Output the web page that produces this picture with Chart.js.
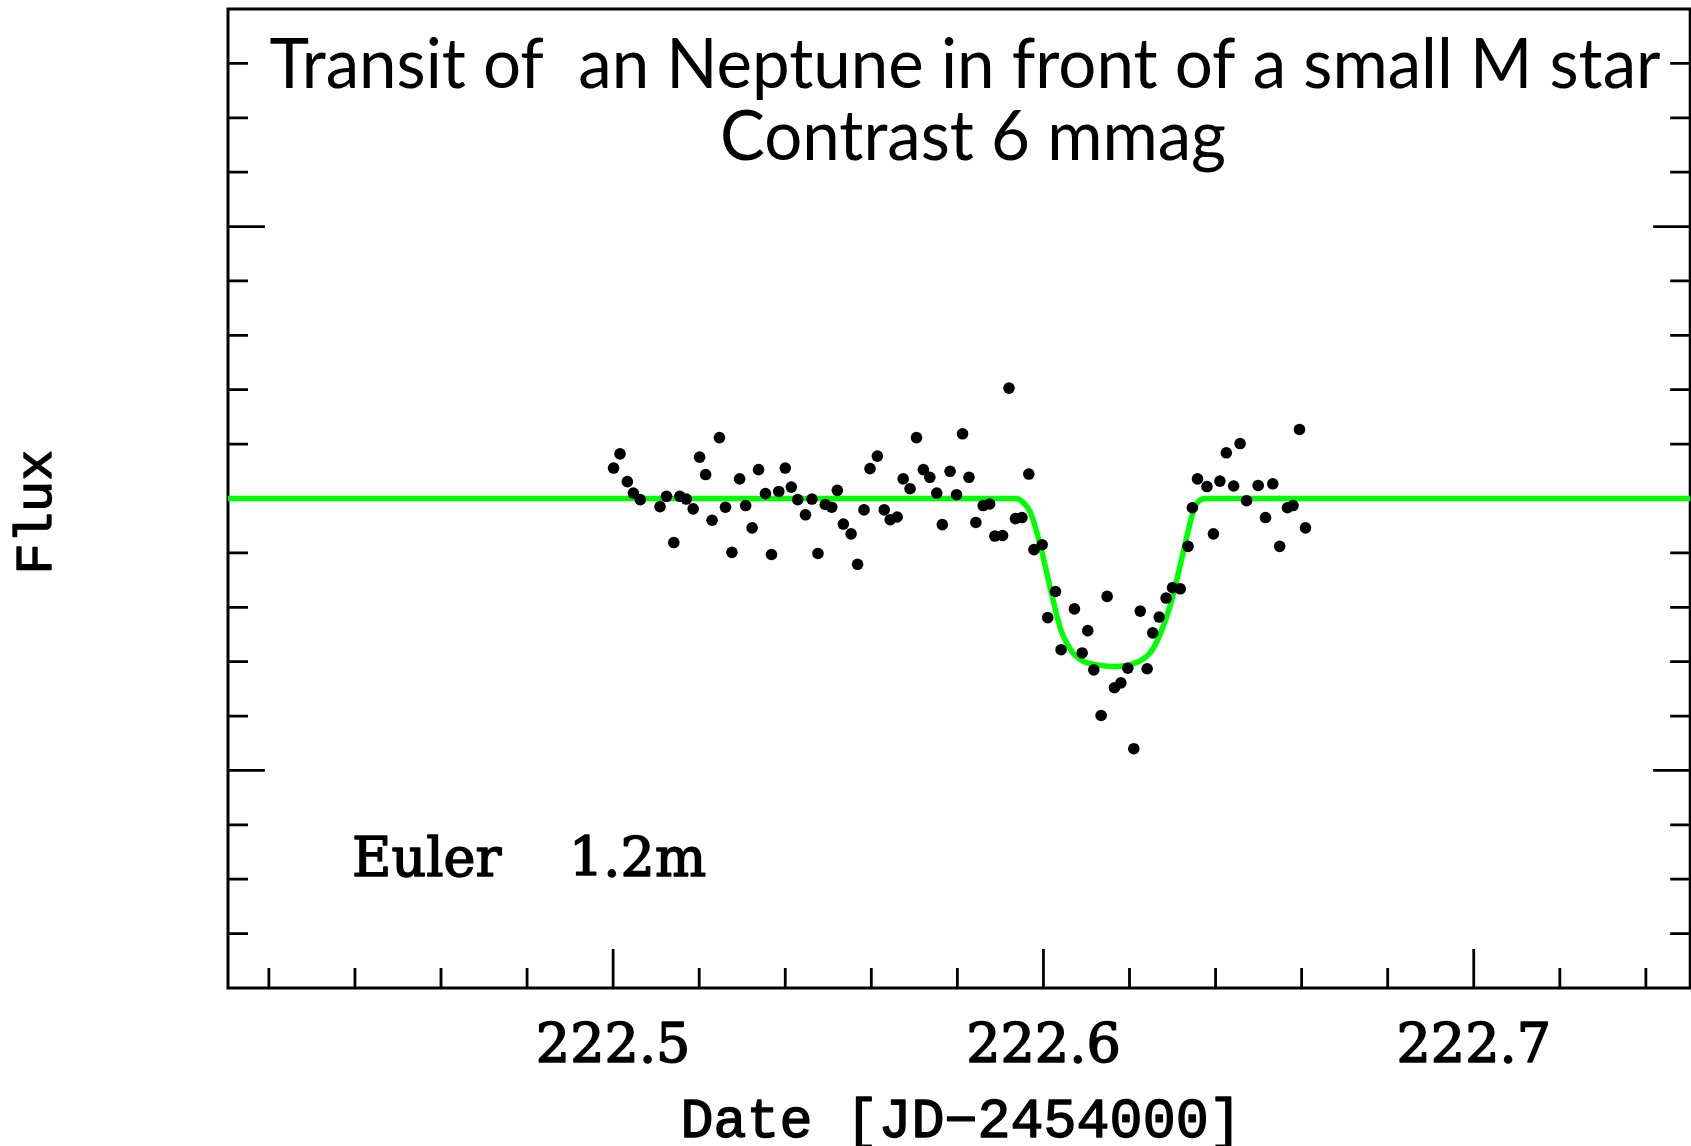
<!DOCTYPE html>
<html>
<head>
<meta charset="utf-8">
<title>Transit light curve</title>
<script src="https://cdn.jsdelivr.net/npm/chart.js@4.4.0/dist/chart.umd.min.js"></script>
<style>
html, body { margin: 0; padding: 0; background: #ffffff; overflow: hidden; }
#wrap { width: 1696px; height: 1146px; }
canvas { display: block; }
</style>
</head>
<body>
<div id="wrap"><canvas id="lightCurve" width="1696" height="1146" style="width:1696px;height:1146px"></canvas></div>
<script>
// observed photometry, Euler 1.2m
const obs_dates =
[
  222.5001, 222.5016, 222.5033, 222.5047, 222.5063, 222.5109, 222.5124, 222.5141, 222.5155, 222.5170,
  222.5186, 222.5201, 222.5215, 222.5230, 222.5247, 222.5261, 222.5276, 222.5294, 222.5308, 222.5323,
  222.5338, 222.5354, 222.5368, 222.5385, 222.5400, 222.5414, 222.5429, 222.5447, 222.5462, 222.5476,
  222.5493, 222.5508, 222.5521, 222.5535, 222.5553, 222.5568, 222.5583, 222.5597, 222.5614, 222.5630,
  222.5644, 222.5660, 222.5674, 222.5690, 222.5705, 222.5721, 222.5736, 222.5752, 222.5765, 222.5783,
  222.5798, 222.5812, 222.5827, 222.5843, 222.5860, 222.5875, 222.5887, 222.5905, 222.5920, 222.5935,
  222.5950, 222.5966, 222.5978, 222.5997, 222.6010, 222.6028, 222.6041, 222.6072, 222.6090, 222.6103,
  222.6117, 222.6134, 222.6148, 222.6165, 222.6180, 222.6196, 222.6210, 222.6225, 222.6241, 222.6254,
  222.6269, 222.6285, 222.6300, 222.6318, 222.6336, 222.6346, 222.6358, 222.6380, 222.6395, 222.6410,
  222.6425, 222.6442, 222.6457, 222.6472, 222.6499, 222.6516, 222.6533, 222.6549, 222.6567, 222.6580,
  222.6595, 222.6609
]

const obs_flux =
[
  1.00056, 1.00082, 1.00031, 1.00010, 0.99998, 0.99985, 1.00004, 0.99919, 1.00004, 0.99999,
  0.99981, 1.00076, 1.00044, 0.99960, 1.00112, 0.99984, 0.99901, 1.00036, 0.99987, 0.99946,
  1.00053, 1.00009, 0.99897, 1.00013, 1.00056, 1.00021, 0.99998, 0.99970, 0.99999, 0.99899,
  0.99989, 0.99984, 1.00015, 0.99953, 0.99935, 0.99879, 0.99979, 1.00055, 1.00078, 0.99979,
  0.99961, 0.99966, 1.00036, 1.00018, 1.00112, 1.00053, 1.00039, 1.00010, 0.99952, 1.00050,
  1.00007, 1.00119, 1.00039, 0.99956, 0.99987, 0.99990, 0.99931, 0.99932, 1.00203, 0.99963,
  0.99965, 1.00045, 0.99906, 0.99915, 0.99781, 0.99829, 0.99722, 0.99797, 0.99716, 0.99757,
  0.99685, 0.99601, 0.99820, 0.99652, 0.99661, 0.99688, 0.99540, 0.99793, 0.99687, 0.99753,
  0.99782, 0.99817, 0.99836, 0.99834, 0.99912, 0.99983, 1.00036, 1.00022, 0.99935, 1.00032,
  1.00084, 1.00023, 1.00101, 0.99996, 1.00024, 0.99965, 1.00027, 0.99912, 0.99983, 0.99987,
  1.00127, 0.99946
]

// transit model (green curve)
const model_dates =
[
  222.4105, 222.5935, 222.5950, 222.5971, 222.5994, 222.6017, 222.6041, 222.6057, 222.6073, 222.6095,
  222.6119, 222.6166, 222.6203, 222.6226, 222.6249, 222.6272, 222.6296, 222.6319, 222.6335, 222.6351,
  222.6366, 222.6380, 222.7505
]

const model_flux =
[
  1.00000, 1.00000, 0.99995, 0.99972, 0.99910, 0.99831, 0.99757, 0.99730, 0.99712, 0.99700,
  0.99695, 0.99691, 0.99695, 0.99702, 0.99717, 0.99752, 0.99807, 0.99881, 0.99936, 0.99983,
  0.99998, 1.00000, 1.00000
]

// axis ticks
const date_major = [222.5, 222.6, 222.7]
const date_minor = [222.42, 222.44, 222.46, 222.48, 222.52, 222.54, 222.56, 222.58, 222.62, 222.64, 222.66, 222.68, 222.72, 222.74]
const date_labels = ["222.5", "222.6", "222.7"]
const flux_major = [0.995, 1.005]
const flux_minor = [0.992, 0.993, 0.994, 0.996, 0.997, 0.998, 0.999, 1.000, 1.001, 1.002, 1.003, 1.004, 1.006, 1.007, 1.008]

const date_range = [222.4105, 222.7503]
const flux_range = [0.991, 1.009]

const title_lines = ["Transit of  an Neptune in front of a small M star", "Contrast 6 mmag"]
const x_title = "Date [JD\u22122454000]"
const y_title = "Flux"
const telescope_text = ["Euler", "1.2m"]

// text drawn with a thin outline so it looks as heavy as the plot fonts
function heavy_text(ctx, text, x, y, weight, max_width)
{
  ctx.lineWidth = weight
  ctx.lineJoin = "round"
  if (max_width)
  {
    ctx.strokeText(text, x, y, max_width)
    ctx.fillText(text, x, y, max_width)
  }
  else
  {
    ctx.strokeText(text, x, y)
    ctx.fillText(text, x, y)
  }
}

const frame_plugin =
{
  id: "frame_plugin",
  beforeDatasetsDraw(chart)
  {
    const ctx = chart.ctx
    const area = chart.chartArea
    const x_scale = chart.scales.x
    const y_scale = chart.scales.y

    ctx.save()
    ctx.strokeStyle = "#000000"
    ctx.lineCap = "butt"

    // ticks pointing into the box
    ctx.lineWidth = 2.8
    ctx.beginPath()
    for (const v of date_minor)
    {
      const px = x_scale.getPixelForValue(v)
      ctx.moveTo(px, area.bottom)
      ctx.lineTo(px, area.bottom - 20)
    }
    for (const v of date_major)
    {
      const px = x_scale.getPixelForValue(v)
      ctx.moveTo(px, area.bottom)
      ctx.lineTo(px, area.bottom - 39)
    }
    for (const v of flux_minor)
    {
      const py = y_scale.getPixelForValue(v)
      ctx.moveTo(area.left, py)
      ctx.lineTo(area.left + 20, py)
      ctx.moveTo(area.right, py)
      ctx.lineTo(area.right - 20, py)
    }
    for (const v of flux_major)
    {
      const py = y_scale.getPixelForValue(v)
      ctx.moveTo(area.left, py)
      ctx.lineTo(area.left + 37, py)
      ctx.moveTo(area.right, py)
      ctx.lineTo(area.right - 37, py)
    }
    ctx.stroke()

    ctx.lineWidth = 3
    ctx.strokeRect(area.left, area.top, area.right - area.left, area.bottom - area.top)
    ctx.restore()
  },
  afterDatasetsDraw(chart)
  {
    const ctx = chart.ctx
    const area = chart.chartArea
    const x_scale = chart.scales.x

    ctx.save()
    ctx.fillStyle = "#000000"
    ctx.strokeStyle = "#000000"

    // tick labels
    ctx.font = "54px 'DejaVu Serif'"
    ctx.textAlign = "center"
    ctx.textBaseline = "alphabetic"
    date_major.forEach((v, i) =>
    {
      heavy_text(ctx, date_labels[i], x_scale.getPixelForValue(v), area.bottom + 74, 1.6)
    })

    // x axis title
    ctx.font = "55px 'Liberation Mono'"
    heavy_text(ctx, x_title, (area.left + area.right) / 2 + 2, area.bottom + 149, 1.4, 566)

    // y axis title
    ctx.save()
    ctx.translate(37, 512)
    ctx.rotate(-Math.PI / 2)
    ctx.font = "52px 'Liberation Mono'"
    ctx.textBaseline = "middle"
    heavy_text(ctx, y_title, 0, 0, 1.4)
    ctx.restore()

    // telescope label
    ctx.font = "54px 'DejaVu Serif'"
    ctx.textAlign = "left"
    heavy_text(ctx, telescope_text[0], 352, 876, 1.6)
    heavy_text(ctx, telescope_text[1], 569, 876, 1.6)

    // title over the top of the box
    ctx.font = "69px 'Lato'"
    const w1 = ctx.measureText(title_lines[0]).width
    const sx = 1391 / w1
    ctx.textAlign = "center"
    ctx.save()
    ctx.translate(965, 88)
    ctx.scale(sx, 1)
    ctx.fillText(title_lines[0], 0, 0)
    ctx.restore()
    ctx.save()
    ctx.translate(973, 160)
    ctx.scale(sx, 1)
    ctx.fillText(title_lines[1], 0, 0)
    ctx.restore()

    ctx.restore()
  }
}

const obs_points = obs_dates.map((d, i) => ({ x: d, y: obs_flux[i] }))
const model_points = model_dates.map((d, i) => ({ x: d, y: model_flux[i] }))

const chart_context = document.getElementById("lightCurve").getContext("2d")

const light_curve = new Chart(chart_context,
{
  type: "scatter",
  data:
  {
    datasets:
    [
      {
        label: "model",
        data: model_points,
        showLine: true,
        borderColor: "#00ff00",
        borderWidth: 5.5,
        pointRadius: 0,
        cubicInterpolationMode: "monotone",
        fill: false,
        order: 2
      },
      {
        label: "Euler 1.2m",
        data: obs_points,
        showLine: false,
        backgroundColor: "#000000",
        borderWidth: 0,
        pointRadius: 5.8,
        order: 1
      }
    ]
  },
  options:
  {
    responsive: false,
    animation: false,
    devicePixelRatio: 1,
    layout:
    {
      padding: { left: 228, top: 9, right: 2, bottom: 158 }
    },
    plugins:
    {
      legend: { display: false },
      tooltip: { enabled: false }
    },
    scales:
    {
      x:
      {
        type: "linear",
        display: false,
        min: date_range[0],
        max: date_range[1]
      },
      y:
      {
        type: "linear",
        display: false,
        min: flux_range[0],
        max: flux_range[1]
      }
    }
  },
  plugins: [frame_plugin]
})
</script>
</body>
</html>
